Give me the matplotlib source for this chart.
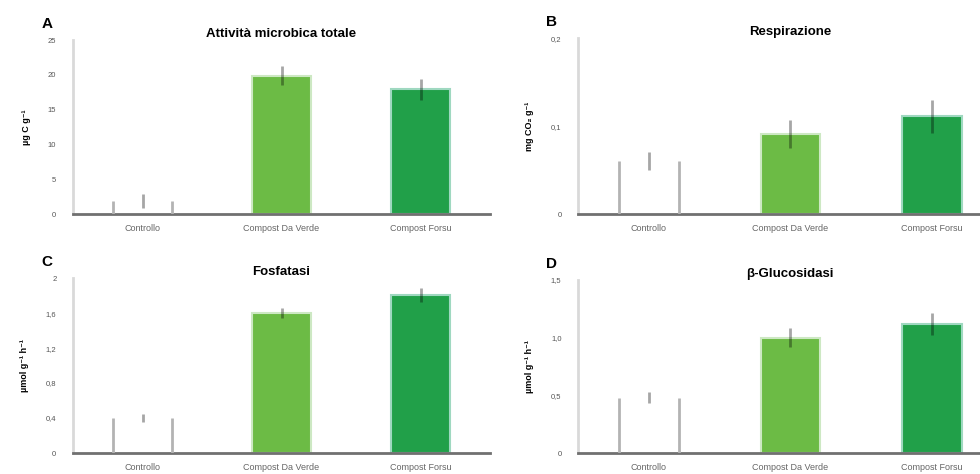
import matplotlib.pyplot as plt

plt.rcParams['font.family'] = ['Liberation Sans', 'DejaVu Sans']

categories = ['Controllo', 'Compost Da Verde', 'Compost Forsu']

titles = ['Attività microbica totale', 'Respirazione', 'Fosfatasi', 'β-Glucosidasi']
letters = ['A', 'B', 'C', 'D']
ylabels = ['µg C g⁻¹', 'mg CO₂ g⁻¹', 'µmol g⁻¹ h⁻¹', 'µmol g⁻¹ h⁻¹']

attivita = [1.9, 19.9, 17.9]
attivita_err = [1.0, 1.3, 1.5]
respirazione = [0.060, 0.091, 0.111]
respirazione_err = [0.010, 0.016, 0.019]
fosfatasi = [0.40, 1.60, 1.81]
fosfatasi_err = [0.045, 0.06, 0.08]
glucosidasi = [0.48, 1.00, 1.12]
glucosidasi_err = [0.05, 0.08, 0.095]

yticks = [[0, 5, 10, 15, 20, 25], [0, 0.1, 0.2], [0, 0.4, 0.8, 1.2, 1.6, 2.0], [0, 0.5, 1.0, 1.5]]
yticklabels = [['0', '5', '10', '15', '20', '25'], ['0', '0,1', '0,2'],
               ['0', '0,4', '0,8', '1,2', '1,6', '2'], ['0', '0,5', '1,0', '1,5']]

values = [attivita, respirazione, fosfatasi, glucosidasi]
errors = [attivita_err, respirazione_err, fosfatasi_err, glucosidasi_err]

positions = [[0.0745, 0.5485, 0.4255, 0.367],
             [0.590, 0.5485, 0.433, 0.371],
             [0.0745, 0.0443, 0.4255, 0.369],
             [0.590, 0.0443, 0.433, 0.365]]

fills = ['white', '#6cbb45', '#21a049']
edges = ['white', '#cde8c3', '#9fd8c0']

fig = plt.figure(figsize=(9.8, 4.74), dpi=100)

for i in range(4):
    ax = fig.add_axes(positions[i])
    x = range(len(categories))
    bars = ax.bar(x, values[i], width=0.42, color=fills, edgecolor=edges, linewidth=1.5, zorder=2)
    # control bar: only grey sides
    b = bars[0]
    ax.vlines([b.get_x(), b.get_x() + b.get_width()], 0, b.get_height(), color='#b3b3b3', lw=2, zorder=3)
    ax.errorbar(x, values[i], yerr=errors[i], fmt='none', ecolor='black', alpha=0.35,
                elinewidth=2, capsize=0, zorder=4)
    ax.set_xlim(-0.5, 2.5)
    ax.set_ylim(yticks[i][0], yticks[i][-1])
    ax.set_yticks(yticks[i])
    ax.set_yticklabels(yticklabels[i], fontsize=5.5, color='#555555')
    ax.set_xticks(list(x))
    ax.set_xticklabels(categories, fontsize=6.5, color='#666666')
    ax.tick_params(axis='x', length=0, pad=7)
    ax.tick_params(axis='y', length=0, pad=12)
    ax.spines['top'].set_visible(False)
    ax.spines['right'].set_visible(False)
    ax.spines['left'].set_color('#d9d9d9')
    ax.spines['left'].set_linewidth(2)
    ax.spines['bottom'].set_color('#707070')
    ax.spines['bottom'].set_linewidth(2)
    ax.set_title(titles[i], fontsize=9.5, fontweight='bold', pad=2)
    ax.set_ylabel(ylabels[i], fontsize=6.5, fontweight='bold', labelpad=12)
    ax.text(-0.05, 1.09, letters[i], transform=ax.transAxes, fontsize=11,
            fontweight='bold', ha='right', va='center')

fig.savefig('out.png', dpi=100)
